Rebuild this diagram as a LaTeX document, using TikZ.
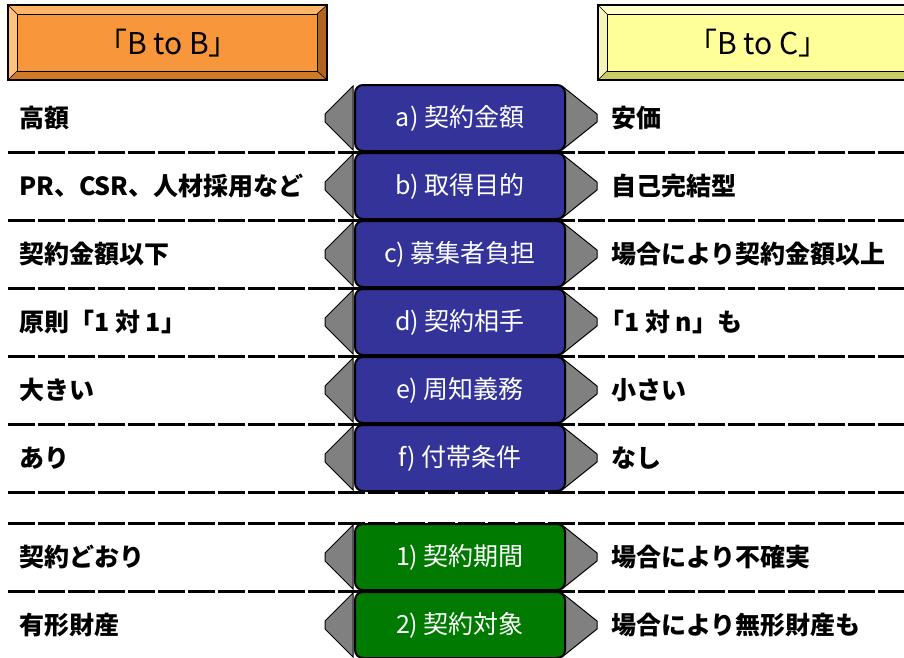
\documentclass[tikz,border=0pt]{standalone}
\usepackage{fontspec}
\setmainfont{Noto Sans CJK JP}
\definecolor{orangeface}{HTML}{F7963A}
\definecolor{orangelight}{HTML}{FFC080}
\definecolor{orangetop}{HTML}{FFB466}
\definecolor{orangedark}{HTML}{B0641E}
\definecolor{orangebot}{HTML}{D07A26}
\definecolor{yelface}{HTML}{FFFF99}
\definecolor{yellight}{HTML}{FFFFCC}
\definecolor{yeldark}{HTML}{CCCC66}
\definecolor{navy}{HTML}{333399}
\definecolor{dgreen}{HTML}{007A00}
\definecolor{arrowgray}{HTML}{808080}
\tikzset{
  rowline/.style={line width=3pt, dash pattern=on 27pt off 3pt},
  lefttext/.style={anchor=west, inner sep=0pt, font=\fontsize{25}{25}\selectfont\bfseries},
  righttext/.style={anchor=west, inner sep=0pt, font=\fontsize{25}{25}\selectfont\bfseries},
  centerbox/.style={draw=black, line width=2pt, rounded corners=8pt, minimum width=210pt, minimum height=66pt, inner sep=0pt, text=white, font=\fontsize{25}{25}\selectfont},
  headtext/.style={inner sep=0pt, font=\fontsize{30}{30}\selectfont},
  arrowhead/.style={fill=arrowgray, draw=black, line width=1pt},
}
\begin{document}
\begin{tikzpicture}[x=1pt,y=-1pt]
\useasboundingbox (0,0) rectangle (904,657);
\clip (0,0) rectangle (904,657);
% ---- header left (bevelled)
\fill[orangetop] (8,5) -- (327,5) -- (317,14) -- (17,14) -- cycle;
\fill[orangelight] (8,5) -- (17,14) -- (17,71) -- (8,80) -- cycle;
\fill[orangedark] (327,5) -- (327,80) -- (317,71) -- (317,14) -- cycle;
\fill[orangebot] (8,80) -- (327,80) -- (317,71) -- (17,71) -- cycle;
\draw[line width=1.5pt] (8,5) rectangle (327,80);
\draw[line width=0.6pt] (8,5) -- (17,14) (327,5) -- (317,14) (8,80) -- (17,71) (327,80) -- (317,71);
\node[draw=black, line width=1pt, fill=orangeface, minimum width=300pt, minimum height=57pt, inner sep=0pt] (hbbface) at (167,42.5) {};
\node[headtext] (hbb) at (168,43) {「B to B」};
% ---- header right (bevelled)
\fill[yellight] (598,5) -- (930,5) -- (920,14) -- (607,14) -- cycle;
\fill[yellight!80!yeldark] (598,5) -- (607,14) -- (607,71) -- (598,80) -- cycle;
\fill[yeldark] (598,80) -- (930,80) -- (920,71) -- (607,71) -- cycle;
\draw[line width=1.5pt] (598,5) rectangle (930,80);
\draw[line width=0.6pt] (598,5) -- (607,14) (598,80) -- (607,71);
\node[draw=black, line width=1pt, fill=yelface, minimum width=313pt, minimum height=57pt, inner sep=0pt] (hbcface) at (763.5,42.5) {};
\node[headtext] (hbc) at (758,43) {「B to C」};
% ---- dashed row lines
\foreach \ly in {152,220,288,356,424,492,523,591}
  \draw[rowline] (8,\ly) -- (904,\ly);
% ---- rows
\foreach \cy/\nm/\lt/\ct/\rt/\col in {
  118/ra/高額/a) 契約金額/安価/navy,
  186/rb/PR、CSR、人材採用など/b) 取得目的/自己完結型/navy,
  254/rc/契約金額以下/c) 募集者負担/場合により契約金額以上/navy,
  322/rd/原則「1 対 1」/d) 契約相手/\hspace{-12pt}「1 対 n」も/navy,
  390/re/大きい/e) 周知義務/小さい/navy,
  458/rf/あり/f) 付帯条件/なし/navy,
  557/rg/契約どおり/1) 契約期間/場合により不確実/dgreen,
  625/rh/有形財産/2) 契約対象/場合により無形財産も/dgreen}{
  \draw[arrowhead] (353,\cy-32) -- (325,\cy-4) -- (325,\cy+4) -- (353,\cy+32) -- cycle;
  \draw[arrowhead] (562,\cy-32) -- (597,\cy-4) -- (597,\cy+4) -- (562,\cy+32) -- cycle;
  \node[centerbox, fill=\col] (\nm box) at (460,\cy) {\ct};
  \node[lefttext] (\nm left) at (19,\cy) {\lt};
  \node[righttext] (\nm right) at (611,\cy) {\rt};
}
\end{tikzpicture}
\end{document}
